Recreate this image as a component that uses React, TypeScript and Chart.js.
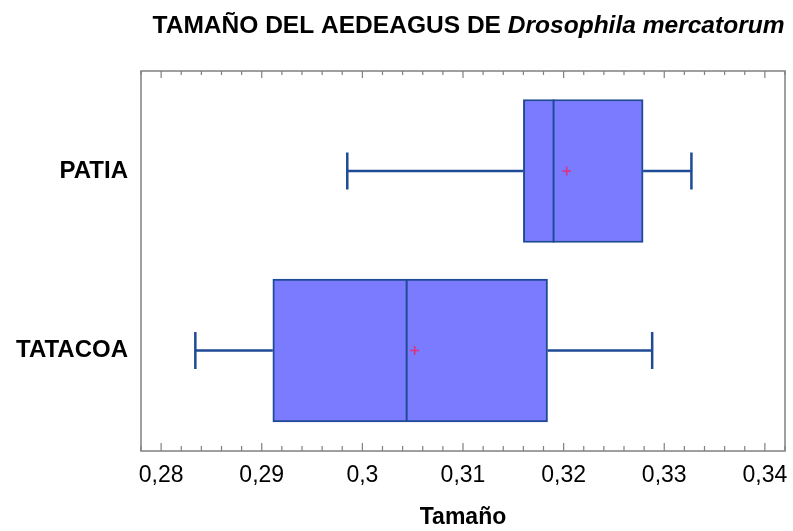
import React, { useEffect, useRef } from 'react';
import { Chart, registerables } from 'chart.js';

Chart.register(...registerables);

// ---- data ----
const categories = ['PATIA', 'TATACOA'];
const categoryPositions = [0, 1];
const whiskerLow = [0.2985, 0.2834];
const q1Values = [0.316, 0.2911];
const medianValues = [0.319, 0.3044];
const q3Values = [0.3279, 0.3184];
const whiskerHigh = [0.3327, 0.3288];
const meanValues = [0.3203, 0.3052];

const xMin = 0.278;
const xMax = 0.342;
const xMinorStep = 0.002;
const xLabelValues = [0.28, 0.29, 0.3, 0.31, 0.32, 0.33, 0.34];

const titleMain = 'TAMAÑO DEL AEDEAGUS DE ';
const titleSpecies = 'Drosophila mercatorum';
const xAxisTitle = 'Tamaño';

// ---- styles ----
const FONT = '"Liberation Sans", Arial, Helvetica, sans-serif';
const BOX_FILL = '#7b7bff';
const BOX_LINE = '#1f4a96';
const FRAME = '#808080';
const MEAN_COLOR = '#e0307a';

const boxplotPlugin = {
  id: 'boxplotExtras',
  afterDatasetDraw(chart: any, args: any) {
    if (args.index !== 0) return;
    const ctx = chart.ctx;
    const xs = chart.scales.x;
    const ys = chart.scales.y;
    ctx.save();
    ctx.strokeStyle = BOX_LINE;
    const cap = 18.5;
    categoryPositions.forEach((p, i) => {
      const cy = ys.getPixelForValue(p);
      const xl = xs.getPixelForValue(whiskerLow[i]);
      const x1 = xs.getPixelForValue(q1Values[i]);
      const x3 = xs.getPixelForValue(q3Values[i]);
      const xh = xs.getPixelForValue(whiskerHigh[i]);
      ctx.lineWidth = 2.5;
      ctx.beginPath();
      ctx.moveTo(xl, cy);
      ctx.lineTo(x1, cy);
      ctx.moveTo(x3, cy);
      ctx.lineTo(xh, cy);
      ctx.moveTo(xl, cy - cap);
      ctx.lineTo(xl, cy + cap);
      ctx.moveTo(xh, cy - cap);
      ctx.lineTo(xh, cy + cap);
      ctx.stroke();
      // median
      const meta = chart.getDatasetMeta(0);
      const bar = meta.data[i];
      const half = bar.height / 2;
      const xm = xs.getPixelForValue(medianValues[i]);
      ctx.lineWidth = 2;
      ctx.beginPath();
      ctx.moveTo(xm, bar.y - half);
      ctx.lineTo(xm, bar.y + half);
      ctx.stroke();
    });
    ctx.restore();
  },
  afterDraw(chart: any) {
    const ctx = chart.ctx;
    const { left, right, top, bottom } = chart.chartArea;
    const xs = chart.scales.x;
    ctx.save();
    // frame
    ctx.strokeStyle = FRAME;
    ctx.lineWidth = 1.5;
    ctx.strokeRect(left, top, right - left, bottom - top);
    // inward ticks top & bottom
    ctx.lineWidth = 1.2;
    const n = Math.round((xMax - xMin) / xMinorStep);
    for (let i = 0; i <= n; i++) {
      const v = xMin + i * xMinorStep;
      const major = Math.abs(v * 100 - Math.round(v * 100)) < 1e-6;
      const px = xs.getPixelForValue(v);
      const lb = major ? 8 : 5;
      const lt = major ? 7 : 4;
      ctx.beginPath();
      ctx.moveTo(px, bottom);
      ctx.lineTo(px, bottom - lb);
      ctx.moveTo(px, top);
      ctx.lineTo(px, top + lt);
      ctx.stroke();
    }
    // title
    ctx.fillStyle = '#000';
    ctx.textBaseline = 'alphabetic';
    ctx.textAlign = 'left';
    const f1 = `bold 24px ${FONT}`;
    const f2 = `italic bold 24px ${FONT}`;
    ctx.font = f1;
    const w1 = ctx.measureText(titleMain).width;
    ctx.font = f2;
    const w2 = ctx.measureText(titleSpecies).width;
    const startX = 152.5;
    const targetW = 632;
    const sx = targetW / (w1 + w2);
    ctx.translate(startX, 33);
    ctx.scale(sx, 1);
    ctx.font = f1;
    ctx.fillText(titleMain, 0, 0);
    ctx.font = f2;
    ctx.fillText(titleSpecies, w1, 0);
    ctx.restore();
  },
};

export default function App() {
  const canvasRef = useRef<HTMLCanvasElement | null>(null);

  useEffect(() => {
    if (!canvasRef.current) return;
    const chart = new Chart(canvasRef.current, {
      type: 'bar',
      data: {
        datasets: [
          {
            type: 'bar',
            indexAxis: 'y',
            order: 2,
            data: categoryPositions.map((p, i) => ({ y: p, x: [q1Values[i], q3Values[i]] })),
            backgroundColor: BOX_FILL,
            borderColor: BOX_LINE,
            borderWidth: 2,
            borderSkipped: false,
            barThickness: 143,
            grouped: false,
          } as any,
          {
            type: 'scatter',
            order: 1,
            data: categoryPositions.map((p, i) => ({ x: meanValues[i], y: p })),
            pointStyle: 'cross',
            pointRadius: 4.5,
            pointBorderWidth: 1.5,
            borderColor: MEAN_COLOR,
            backgroundColor: MEAN_COLOR,
            showLine: false,
          } as any,
        ],
      },
      options: {
        animation: false,
        responsive: true,
        maintainAspectRatio: false,
        devicePixelRatio: 1,
        layout: { padding: { top: 71, right: 8, left: 0, bottom: 0 } },
        plugins: {
          legend: { display: false },
          tooltip: { enabled: false },
          title: { display: false },
        },
        scales: {
          x: {
            type: 'linear',
            min: xMin,
            max: xMax,
            offset: false,
            bounds: 'data',
            beginAtZero: false,
            afterBuildTicks: (s: any) => {
              s.ticks = xLabelValues.map((v) => ({ value: v }));
            },
            ticks: {
              callback: (v: any) => String(v).replace('.', ','),
              font: { family: FONT, size: 23 },
              color: '#000',
              padding: 11,
              maxRotation: 0,
              autoSkip: false,
            },
            grid: { display: false, drawTicks: false, offset: false },
            border: { display: false },
            title: {
              display: true,
              text: xAxisTitle,
              font: { family: FONT, size: 23, weight: 'bold' },
              color: '#000',
              padding: { top: 14, bottom: 0 },
            },
            afterFit: (s: any) => {
              s.height = 80;
              s.paddingLeft = 0;
              s.paddingRight = 0;
            },
          },
          y: {
            type: 'linear',
            reverse: true,
            min: -0.557,
            max: 1.56,
            offset: false,
            bounds: 'data',
            beginAtZero: false,
            afterBuildTicks: (s: any) => {
              s.ticks = categoryPositions.map((v) => ({ value: v }));
            },
            ticks: {
              callback: (v: any) => categories[categoryPositions.indexOf(v)] ?? '',
              font: { family: FONT, size: 24, weight: 'bold' },
              color: '#000',
              padding: 13,
            },
            grid: { display: false, drawTicks: false, offset: false },
            border: { display: false },
            afterFit: (s: any) => {
              s.width = 141;
              s.paddingTop = 0;
              s.paddingBottom = 0;
            },
          },
        },
      } as any,
      plugins: [boxplotPlugin],
    });
    return () => chart.destroy();
  }, []);

  return (
    <div
      style={{
        position: 'absolute',
        left: 0,
        top: 0,
        width: 793,
        height: 531,
        background: '#fff',
      }}
    >
      <canvas ref={canvasRef} />
    </div>
  );
}
